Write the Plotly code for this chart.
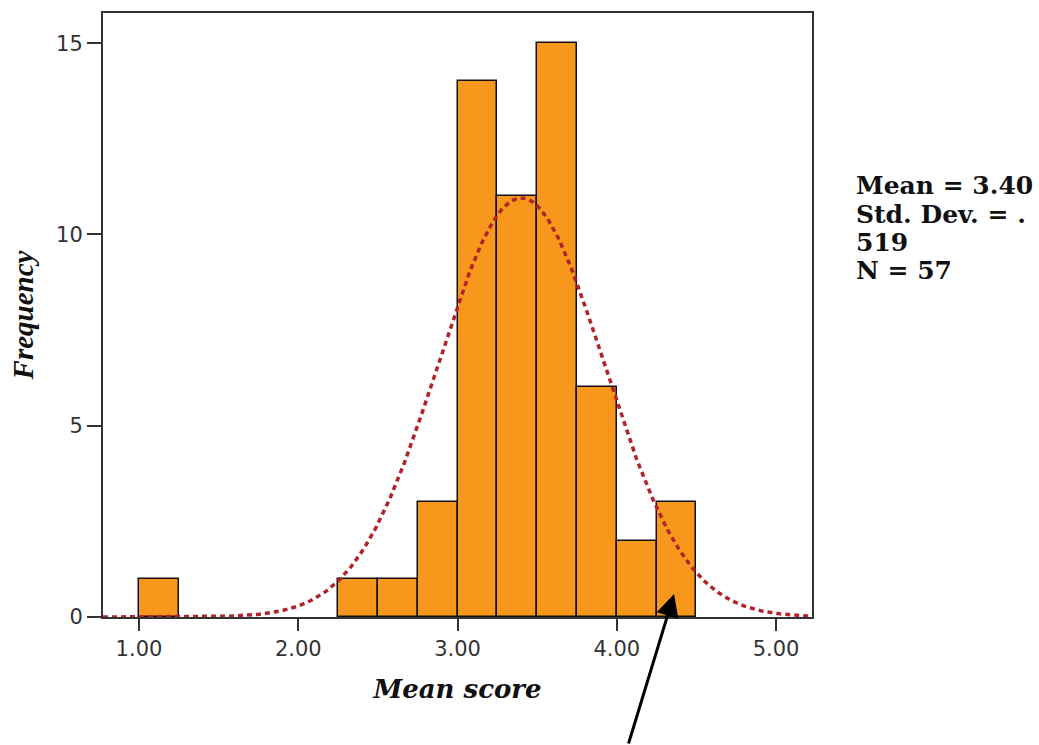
import numpy as np
import plotly.graph_objects as go

# ---- data ----
BIN_WIDTH = 0.25
BIN_STARTS = [1.00, 2.25, 2.50, 2.75, 3.00, 3.25, 3.50, 3.75, 4.00, 4.25]
FREQUENCIES = [1, 1, 1, 3, 14, 11, 15, 6, 2, 3]
X_TICKS = [1.0, 2.0, 3.0, 4.0, 5.0]
X_TICK_LABELS = ["1.00", "2.00", "3.00", "4.00", "5.00"]
Y_TICKS = [0, 5, 10, 15]
MEAN = 3.40
STD_DEV = 0.519
N = 57
STAT_LINES = ["Mean = 3.40", "Std. Dev. = .", "519", "N = 57"]

X_RANGE = [0.774, 5.226]
Y_RANGE = [0, 15.79]

centers = [s + BIN_WIDTH / 2 for s in BIN_STARTS]

# normal curve defined by the stated mean / sd / N (scaled to bin width)
xc = np.linspace(X_RANGE[0], X_RANGE[1], 400)
yc = N * BIN_WIDTH / (STD_DEV * np.sqrt(2 * np.pi)) * np.exp(-0.5 * ((xc - MEAN) / STD_DEV) ** 2)

fig = go.Figure()
fig.add_trace(go.Bar(
    x=centers, y=FREQUENCIES, width=[BIN_WIDTH] * len(centers),
    marker=dict(color="#F7981D", line=dict(color="#111111", width=1.5)),
    showlegend=False, hoverinfo="x+y",
))
fig.add_trace(go.Scatter(
    x=xc, y=yc, mode="lines",
    line=dict(color="#B0232B", width=3.5, dash="5px,4px"),
    showlegend=False, hoverinfo="skip",
))

W, H = 1039, 745
L, R, T, B = 103, 227, 13, 128
plot_h = H - T - B

fig.update_layout(
    width=W, height=H,
    margin=dict(l=L, r=R, t=T, b=B),
    paper_bgcolor="white", plot_bgcolor="white",
    bargap=0,
    xaxis=dict(
        range=X_RANGE, tickmode="array", tickvals=X_TICKS, ticktext=X_TICK_LABELS,
        ticks="outside", ticklen=12, tickwidth=1.5, tickcolor="#333333",
        showline=True, linecolor="#333333", linewidth=2, mirror=True,
        showgrid=False, zeroline=False,
        tickfont=dict(family="DejaVu Sans", size=21, color="#333333"),
        title=dict(text="<b><i>Mean score</i></b>", standoff=20,
                   font=dict(family="DejaVu Serif", size=26, color="#111111")),
    ),
    yaxis=dict(
        range=Y_RANGE, tickmode="array", tickvals=Y_TICKS,
        ticks="outside", ticklen=14, tickwidth=1.5, tickcolor="#333333",
        showline=True, linecolor="#333333", linewidth=2, mirror=True,
        showgrid=False, zeroline=False,
        tickfont=dict(family="DejaVu Sans", size=21, color="#333333"),
        title=dict(text="<b><i>Frequency</i></b>", standoff=14,
                   font=dict(family="Liberation Serif", size=29, color="#111111")),
    ),
)

# statistics box on the right
line_px = [186, 214, 242, 270]
for txt, py in zip(STAT_LINES, line_px):
    fig.add_annotation(
        text="<b>%s</b>" % txt, xref="paper", yref="paper",
        x=(854 - L) / (W - L - R), y=(H - B - py) / plot_h,
        xanchor="left", yanchor="middle", showarrow=False,
        font=dict(family="DejaVu Serif", size=25, color="#111111"),
    )

# black pointer arrow
fig.add_annotation(
    x=4.36, y=0.6, xref="x", yref="y", text="",
    showarrow=True, arrowhead=2, arrowsize=1.5, arrowwidth=3, arrowcolor="black",
    axref="pixel", ayref="pixel", ax=-46, ay=160,
)

fig.write_html("out.html")
